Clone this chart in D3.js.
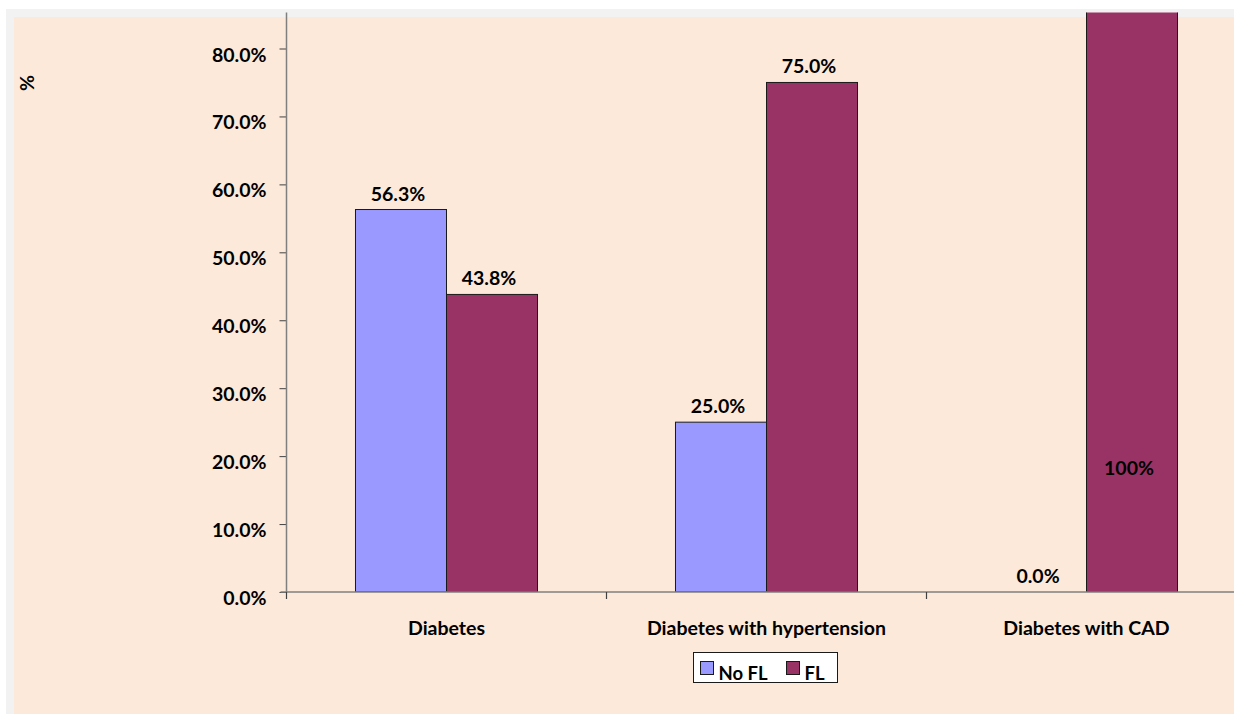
<!DOCTYPE html>
<html>
<head>
<meta charset="utf-8">
<script src="https://cdn.jsdelivr.net/npm/d3@7/dist/d3.min.js"></script>
<style>
  html, body { margin: 0; padding: 0; background: #ffffff; }
  svg { display: block; }
  text { font-family: Lato, "Open Sans", sans-serif; font-weight: bold; fill: #000; }
</style>
</head>
<body>
<svg id="chart" width="1234" height="714"></svg>
<script>
// Share of patients with / without FL in each diabetic group
const categories = ["Diabetes", "Diabetes with hypertension", "Diabetes with CAD"];
const seriesNames = ["No FL", "FL"];
const noFL = [0.563, 0.25, 0.0];
const withFL = [0.438, 0.75, 1.0];
const valueLabels = [["56.3%", "43.8%"], ["25.0%", "75.0%"], ["0.0%", "100%"]];
const yTicks = [0, 0.1, 0.2, 0.3, 0.4, 0.5, 0.6, 0.7, 0.8];
const colors = ["#9999FF", "#993366"];

const FS = 19.5;
const svg = d3.select("#chart");
const W = 1234, H = 714;

// frame: grey band and peach chart area
svg.append("rect").attr("x", 6).attr("y", 9).attr("width", W - 6).attr("height", H - 9).attr("fill", "#F2F2F2");
svg.append("rect").attr("x", 14).attr("y", 17).attr("width", W - 14).attr("height", H - 17).attr("fill", "#FDE9DA");

const plot = { left: 286.5, right: 1246.5, top: 12.5, bottom: 592 };

const y = d3.scaleLinear().domain([0, 0.8]).range([plot.bottom, 48.5]);
const x = d3.scaleBand().domain(categories).range([plot.left, plot.right]).paddingInner(0).paddingOuter(0);
const xs = d3.scaleBand().domain(seriesNames).range([0, x.bandwidth()]).paddingInner(0).paddingOuter(0.758);

svg.append("clipPath").attr("id", "plotClip")
  .append("rect").attr("x", plot.left).attr("y", plot.top)
  .attr("width", plot.right - plot.left).attr("height", plot.bottom - plot.top);

const rows = categories.map((c, i) => ({ cat: c, values: [noFL[i], withFL[i]], labels: valueLabels[i] }));

// bars
const groups = svg.append("g").attr("clip-path", "url(#plotClip)")
  .selectAll("g").data(rows).join("g")
  .attr("transform", d => `translate(${x(d.cat)},0)`);

groups.selectAll("rect")
  .data(d => d.values.map((v, j) => ({ v, s: seriesNames[j], j })))
  .join("rect")
  .attr("x", d => xs(d.s))
  .attr("y", d => y(d.v))
  .attr("width", xs.bandwidth())
  .attr("height", d => plot.bottom - y(d.v))
  .attr("fill", d => colors[d.j])
  .attr("stroke", d => d.v > 0 ? "#1a1a1a" : "none")
  .attr("stroke-width", 1);

// y axis
const yAxis = d3.axisLeft(y).tickValues(yTicks).tickFormat(d3.format(".1%")).tickSize(7).tickPadding(13);
const gy = svg.append("g").attr("transform", `translate(${plot.left},0)`).call(yAxis);
gy.select(".domain").remove();
gy.append("line").attr("x1", 0).attr("x2", 0).attr("y1", plot.top).attr("y2", plot.bottom)
  .attr("stroke", "#7f7f7f").attr("stroke-width", 1.5);
gy.selectAll(".tick line").attr("stroke", "#404040");
gy.selectAll(".tick text").attr("font-size", FS).attr("dy", 12.5).attr("fill", "#000")
  .style("font-family", "Lato, sans-serif").style("font-weight", "bold");

// x axis
const gx = svg.append("g").attr("transform", `translate(0,${plot.bottom})`);
gx.append("line").attr("x1", plot.left - 6).attr("x2", plot.right).attr("y1", 0).attr("y2", 0)
  .attr("stroke", "#7f7f7f").attr("stroke-width", 1.5);
const bounds = categories.map(c => x(c)).concat([plot.right]);
gx.selectAll("line.tk").data(bounds).join("line").attr("class", "tk")
  .attr("x1", d => d).attr("x2", d => d).attr("y1", 0).attr("y2", 7)
  .attr("stroke", "#404040").attr("stroke-width", 1.2);
gx.selectAll("text").data(categories).join("text")
  .attr("x", d => x(d) + x.bandwidth() / 2).attr("y", 43)
  .attr("text-anchor", "middle").attr("font-size", FS).text(d => d);

// value labels
const labelG = svg.append("g");
rows.forEach((r, i) => {
  r.values.forEach((v, j) => {
    const cx = x(r.cat) + xs(seriesNames[j]) + xs.bandwidth() / 2 - 3;
    // a bar running past the top of the axis carries its label inside
    const clipped = y(v) < plot.top;
    const ly = clipped ? y(0.183) + 7 : y(v) - 9;
    labelG.append("text").attr("x", cx).attr("y", ly)
      .attr("text-anchor", "middle").attr("font-size", FS).text(r.labels[j]);
  });
});

// y axis title
svg.append("text").attr("transform", "translate(34,83) rotate(-90)")
  .attr("text-anchor", "middle").attr("font-size", FS).text("%");

// legend
const leg = svg.append("g").attr("transform", "translate(693.5,652.5)");
leg.append("rect").attr("width", 144).attr("height", 30).attr("fill", "#ffffff")
  .attr("stroke", "#1a1a1a").attr("stroke-width", 1);
const legX = [7, 93];
seriesNames.forEach((s, j) => {
  leg.append("rect").attr("x", legX[j]).attr("y", 9).attr("width", 13).attr("height", 13)
    .attr("fill", colors[j]).attr("stroke", "#1a1a1a").attr("stroke-width", 1);
  leg.append("text").attr("x", legX[j] + 18).attr("y", 27.5).attr("font-size", 18.5).text(s);
});
</script>
</body>
</html>
